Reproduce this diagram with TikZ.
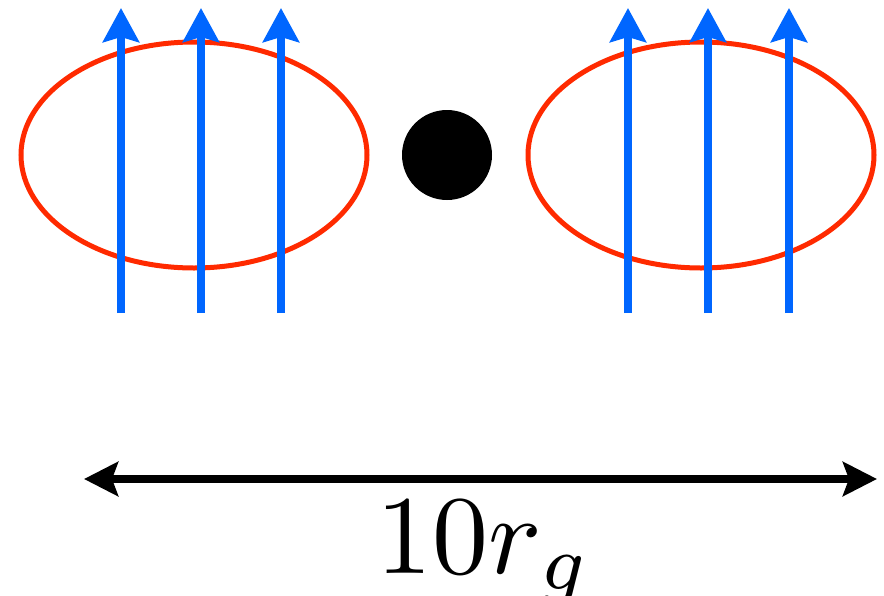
\documentclass[tikz,border=0pt]{standalone}
\usepackage{graphicx}
\usetikzlibrary{arrows.meta,shapes.geometric}
\definecolor{ringred}{HTML}{FF2A00}
\definecolor{fieldblue}{HTML}{0066FF}
\begin{document}
\begin{tikzpicture}[x=1pt,y=-1pt,
  ring/.style={draw=ringred,line width=5pt,ellipse,minimum width=346pt,minimum height=226pt,inner sep=0pt},
  fieldline/.style={draw=fieldblue,line width=8pt,-{Stealth[length=34pt,width=36pt,inset=5pt]}},
  scalebar/.style={draw=black,line width=8pt,{Stealth[length=34pt,width=34pt,inset=6pt]}-{Stealth[length=34pt,width=34pt,inset=6pt]}}]
\useasboundingbox (0,0) rectangle (884,595);
\node[ring] (L) at (194,155) {};
\node[ring] (R) at (701,155) {};
\node[circle,fill=black,minimum size=90pt,inner sep=0pt] (bh) at (447,155) {};
\foreach \i/\x in {1/121,2/201,3/281,4/628,5/708,6/789}{
  \coordinate (s\i) at (\x,313);
  \coordinate (e\i) at (\x,8);
  \draw[fieldline] (s\i) -- (e\i);
}
\coordinate (a) at (84,479);
\coordinate (b) at (877,479);
\draw[scalebar] (a) -- (b);
\node[anchor=base,inner sep=0pt] (lab) at (484,573) {\scalebox{11.2}{$10r_g$}};
\end{tikzpicture}
\end{document}
